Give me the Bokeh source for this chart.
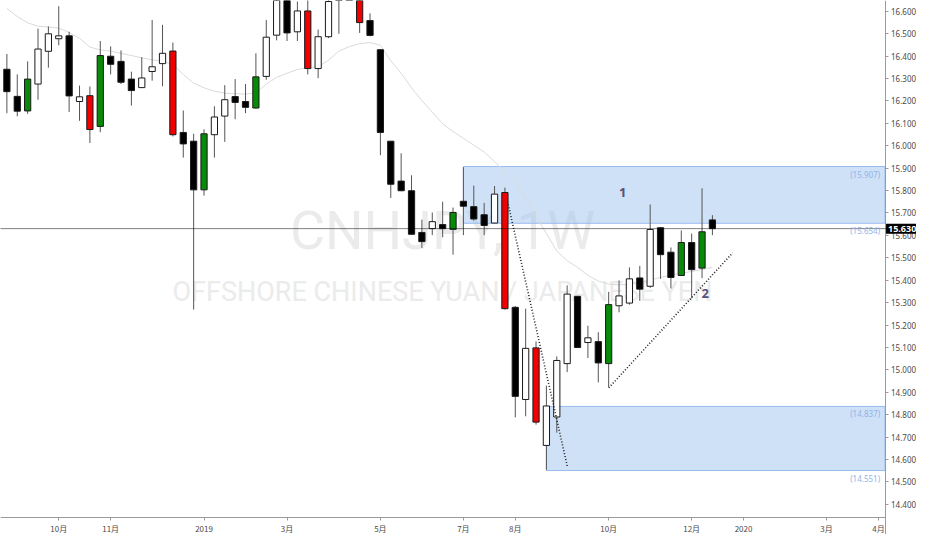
import pandas as pd
from bokeh.plotting import figure
from bokeh.models import ColumnDataSource, FixedTicker, NumeralTickFormatter, Label, Span, Range1d
from bokeh.embed import file_html
from bokeh.resources import INLINE

# ---------------- data ----------------
first_week = "2018-08-27"
opens = [16.341, 16.220, 16.155, 16.275, 16.421, 16.477, 16.490, 16.197, 16.223, 16.086,
         16.399, 16.376, 16.297, 16.259, 16.331, 16.366, 16.422, 16.059, 16.020, 15.803,
         16.049, 16.132, 16.219, 16.197, 16.168, 16.309, 16.493, 16.700, 16.508, 16.601,
         16.344, 16.486, 16.680, 16.720, 16.700, 16.558, 16.428, 16.020, 15.842, 15.799,
         15.613, 15.630, 15.648, 15.627, 15.752, 15.728, 15.692, 15.655, 15.791, 15.279,
         14.868, 15.098, 14.663, 14.790, 15.028, 15.328, 15.122, 15.126, 15.028, 15.286,
         15.298, 15.410, 15.373, 15.634, 15.525, 15.421, 15.568, 15.454, 15.669]
highs = [16.409, 16.318, 16.376, 16.522, 16.532, 16.622, 16.508, 16.268, 16.264, 16.467,
         16.443, 16.425, 16.330, 16.395, 16.561, 16.539, 16.460, 16.157, 16.053, 16.073,
         16.176, 16.270, 16.297, 16.275, 16.412, 16.561, 16.780, 16.750, 16.643, 16.660,
         16.518, 16.680, 16.750, 16.850, 16.750, 16.590, 16.430, 16.020, 15.966, 15.868,
         15.670, 15.702, 15.750, 15.724, 15.904, 15.822, 15.745, 15.820, 15.813, 15.285,
         15.273, 15.127, 14.930, 15.060, 15.377, 15.330, 15.197, 15.168, 15.348, 15.399,
         15.457, 15.464, 15.738, 15.636, 15.546, 15.622, 15.608, 15.810, 15.690]
lows = [16.145, 16.131, 16.142, 16.205, 16.348, 16.448, 16.150, 16.111, 16.012, 16.060,
        16.318, 16.275, 16.179, 16.258, 16.290, 16.265, 16.041, 15.947, 15.269, 15.777,
        15.947, 16.017, 16.118, 16.145, 16.165, 16.294, 16.470, 16.467, 16.467, 16.318,
        16.301, 16.480, 16.499, 16.660, 16.503, 16.488, 15.958, 15.767, 15.797, 15.603,
        15.543, 15.601, 15.591, 15.514, 15.601, 15.666, 15.601, 15.654, 15.269, 14.788,
        14.793, 14.756, 14.554, 14.720, 14.990, 15.098, 15.053, 14.944, 14.923, 15.257,
        15.291, 15.308, 15.366, 15.406, 15.363, 15.420, 15.319, 15.409, 15.601]
closes = [16.241, 16.154, 16.297, 16.431, 16.499, 16.490, 16.222, 16.218, 16.072, 16.402,
          16.363, 16.283, 16.246, 16.302, 16.352, 16.412, 16.049, 16.008, 15.803, 16.053,
          16.128, 16.205, 16.193, 16.171, 16.307, 16.484, 16.720, 16.503, 16.601, 16.344,
          16.486, 16.643, 16.700, 16.780, 16.549, 16.492, 16.059, 15.828, 15.799, 15.605,
          15.572, 15.661, 15.630, 15.702, 15.730, 15.673, 15.644, 15.784, 15.273, 14.882,
          15.096, 14.767, 14.839, 15.042, 15.338, 15.100, 15.143, 15.031, 15.291, 15.330,
          15.406, 15.360, 15.626, 15.514, 15.412, 15.568, 15.447, 15.616, 15.630]
# highlighted candles: R = red, G = green
highlight = ["", "", "G", "", "", "", "", "", "R", "G",
             "", "", "", "", "", "", "R", "", "", "G",
             "", "", "", "", "G", "", "", "", "", "R",
             "", "", "", "", "R", "", "", "", "", "",
             "", "", "", "G", "", "", "", "", "R", "",
             "", "R", "", "", "", "", "", "", "G", "",
             "", "", "", "", "", "G", "", "G", ""]
ma_values = [16.612, 16.576, 16.548, 16.533, 16.529, 16.525, 16.505, 16.479, 16.440, 16.427,
             16.422, 16.412, 16.402, 16.392, 16.383, 16.377, 16.362, 16.318, 16.279, 16.258,
             16.243, 16.234, 16.232, 16.230, 16.236, 16.275, 16.305, 16.323, 16.340, 16.347,
             16.352, 16.381, 16.422, 16.442, 16.455, 16.460, 16.448, 16.379, 16.323, 16.258,
             16.201, 16.150, 16.098, 16.063, 16.033, 16.002, 15.972, 15.929, 15.881, 15.833,
             15.760, 15.686, 15.608, 15.530, 15.487, 15.457, 15.422, 15.396, 15.383, 15.379,
             15.383, 15.392, 15.400, 15.413, 15.422, 15.431, 15.439, 15.448, 15.457]

zone_starts = ["2019-07-01", "2019-08-26"]
zone_tops = [15.907, 14.837]
zone_bottoms = [15.654, 14.551]

trend1_dates = ["2019-07-30 19:00", "2019-09-09 07:00"]
trend1_prices = [15.751, 14.564]
trend2_dates = ["2019-10-07 03:00", "2019-12-29 16:00"]
trend2_prices = [14.920, 15.522]

note_texts = ["1", "2"]
note_dates = ["2019-10-16 11:00", "2019-12-11 02:00"]
note_prices = [15.790, 15.340]

x_tick_dates = ["2018-10-01", "2018-11-05", "2019-01-07", "2019-03-04", "2019-05-06", "2019-07-01",
                "2019-08-05", "2019-10-07", "2019-12-02", "2020-01-06", "2020-03-02", "2020-04-06"]
x_tick_labels = ["10月", "11月", "2019", "3月", "5月", "7月", "8月", "10月", "12月", "2020", "3月", "4月"]
y_ticks = [14.4, 14.5, 14.6, 14.7, 14.8, 14.9, 15.0, 15.1, 15.2, 15.3, 15.4, 15.5,
           15.6, 15.7, 15.8, 15.9, 16.0, 16.1, 16.2, 16.3, 16.4, 16.5, 16.6]

watermark_title = "CNHJPY, 1W"
watermark_sub = "OFFSHORE CHINESE YUAN / JAPANESE YEN"

# ---------------- build ----------------
dates = pd.date_range(first_week, periods=len(opens), freq="7D")
week = pd.Timedelta(days=7)
x_start = dates[0] - 0.6157 * week
x_end = dates[0] + 87.67 * week
y_axis_at = dates[0] + 84.638 * week          # where the price scale sits
y_lo, y_hi = 14.2657, 16.6476
x_axis_at = 14.3436                           # where the time scale sits

def ms(t):
    return float(pd.Timestamp(t).value // 10**6)

def body_color(o, c, h):
    if h == "R":
        return "#f00000"
    if h == "G":
        return "#078a07"
    return "#ffffff" if c >= o else "#000000"

src = ColumnDataSource(dict(
    date=dates, open=opens, high=highs, low=lows, close=closes,
    top=[max(o, c) for o, c in zip(opens, closes)],
    bottom=[min(o, c) for o, c in zip(opens, closes)],
    color=[body_color(o, c, h) for o, c, h in zip(opens, closes, highlight)],
    ma=ma_values,
))

p = figure(width=916, height=534, x_axis_type="datetime", y_axis_location="right",
           x_range=Range1d(x_start, x_end), y_range=Range1d(y_lo, y_hi),
           output_backend="svg", toolbar_location=None,
           min_border_left=0, min_border_top=0, min_border_right=0, min_border_bottom=0)
p.xgrid.visible = False
p.ygrid.visible = False
p.outline_line_color = None
p.background_fill_color = "white"
p.border_fill_color = "white"

# watermark
p.add_layout(Label(x=442, y=304, x_units="screen", y_units="screen", text=watermark_title,
                   text_font="Roboto", text_font_size="54px", text_color="#ebebeb",
                   text_align="center", text_baseline="middle", level="underlay"))
p.add_layout(Label(x=442, y=243, x_units="screen", y_units="screen", text=watermark_sub,
                   text_font="Roboto", text_font_size="27px", text_color="#ebebeb",
                   text_align="center", text_baseline="middle", level="underlay"))

# zones
zsrc = ColumnDataSource(dict(left=pd.to_datetime(zone_starts), right=[y_axis_at] * len(zone_starts),
                             top=zone_tops, bottom=zone_bottoms))
p.quad(left="left", right="right", top="top", bottom="bottom", source=zsrc,
       fill_color="#a0c4f0", fill_alpha=0.5, line_color="#98bbee", line_width=1)

# moving average
p.line("date", "ma", source=src, line_color="#dadada", line_width=1)

# candles
p.segment(x0="date", y0="high", x1="date", y1="low", source=src, line_color="#555555", line_width=1)
p.vbar(x="date", width=0.6 * 7 * 86400000, top="top", bottom="bottom", source=src,
       fill_color="color", line_color="#1a1a1a", line_width=1)

# trend lines
p.line(pd.to_datetime(trend1_dates), trend1_prices, line_color="#222222", line_width=1.6, line_dash="1 2")
p.line(pd.to_datetime(trend2_dates), trend2_prices, line_color="#222222", line_width=1.6, line_dash="1 2")

# price line
last = closes[-1]
p.add_layout(Span(location=last, dimension="width", line_color="#000000", line_width=1, line_dash="1 1"))

# zone value labels
for t, b in zip(zone_tops, zone_bottoms):
    for v in (t, b):
        p.add_layout(Label(x=y_axis_at, y=v, x_offset=-5, y_offset=-2, text="(%.3f)" % v,
                           text_font="Noto Sans", text_font_size="8px", text_color="#8fb3ea",
                           text_align="right", text_baseline="top"))

# notes
for t, d, v in zip(note_texts, note_dates, note_prices):
    p.add_layout(Label(x=pd.Timestamp(d), y=v, text=t, text_font="Noto Sans", text_font_size="13px",
                       text_font_style="bold", text_color="#55527a",
                       text_align="center", text_baseline="middle"))

# axes (pinned inside the frame, like the reference's price/time scales)
tick_ms = [ms(d) for d in x_tick_dates]
xa, ya = p.xaxis[0], p.yaxis[0]
xa.ticker = FixedTicker(ticks=tick_ms)
xa.major_label_overrides = {m: lab for m, lab in zip(tick_ms, x_tick_labels)}
xa.fixed_location = x_axis_at
xa.bounds = (ms(x_start), ms(y_axis_at))
ya.ticker = FixedTicker(ticks=y_ticks)
ya.formatter = NumeralTickFormatter(format="0.000")
ya.fixed_location = ms(y_axis_at)
for ax in (xa, ya):
    ax.axis_line_color = "#9a9a9a"
    ax.major_tick_line_color = "#9a9a9a"
    ax.major_tick_out = 3
    ax.major_tick_in = 0
    ax.minor_tick_out = 0
    ax.minor_tick_in = 0
    ax.major_label_text_color = "#4a4a4a"
    ax.major_label_text_font_size = "8px"
    ax.major_label_standoff = 3
xa.major_label_text_font = "Noto Sans CJK SC"
ya.major_label_text_font = "Noto Sans"

# last price tag on the price scale
p.add_layout(Label(x=y_axis_at, y=last, x_offset=1, text="%.3f" % last, text_font="Noto Sans",
                   text_font_size="9px", text_font_style="bold", text_color="white",
                   background_fill_color="black", padding=2,
                   text_align="left", text_baseline="middle"))

open("out.html", "w").write(file_html(p, INLINE))
